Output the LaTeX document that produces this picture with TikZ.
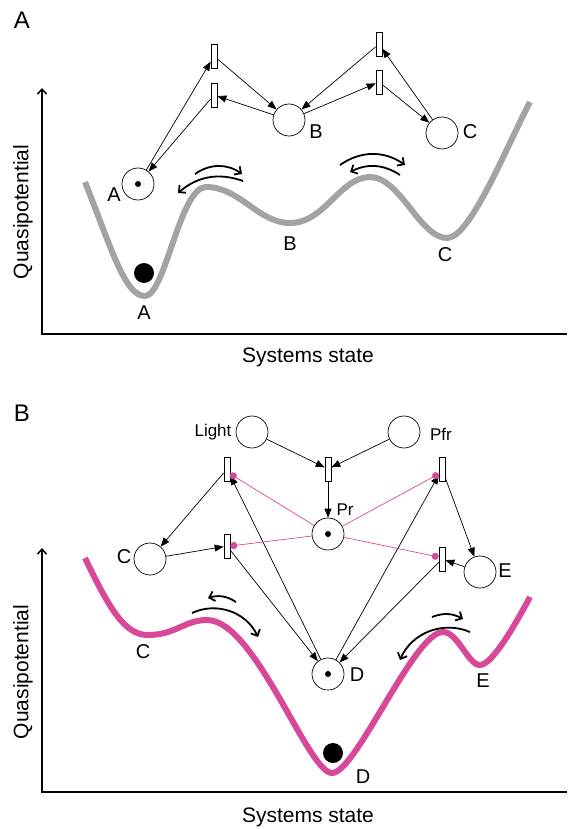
\documentclass[tikz,border=0pt]{standalone}
\usepackage{fontspec}
\setmainfont{Liberation Sans}
\usetikzlibrary{arrows.meta}
\definecolor{grigio}{RGB}{163,163,163}
\definecolor{rosa}{RGB}{216,72,152}
\tikzset{
  posto/.style={circle, draw, line width=0.7pt, minimum size=32pt, inner sep=0pt},
  transiz/.style={draw, line width=0.7pt, minimum width=6pt, minimum height=24pt, inner sep=0pt},
  arco/.style={line width=0.7pt, -{Triangle[length=9pt,width=7pt]}},
  inib/.style={rosa, line width=0.7pt, -{Circle[length=7pt]}},
  gettone/.style={circle, fill, inner sep=0pt, minimum size=6pt},
  oscilla/.style={line width=1.8pt, -{Straight Barb[length=5pt,width=10pt]}},
  asse/.style={line width=1.5pt, -{Straight Barb[length=5pt,width=9pt]}},
  etich/.style={font=\fontsize{20}{24}\selectfont},
  titolo/.style={font=\fontsize{21}{25}\selectfont},
  piccola/.style={font=\fontsize{17}{20}\selectfont},
  lettera/.style={font=\fontsize{24}{28}\selectfont},
}

\begin{document}
\begin{tikzpicture}[x=1pt, y=-1pt]
    \useasboundingbox (0,0) rectangle (567,829);

    % ===== Pannello A =====
    % 1. Lettera e assi
    \node[lettera] (letA) at (22,20) {A};
    \draw[asse] (567,334) -- (42,334) -- (42,88);
    \node[titolo, rotate=90] (quasiA) at (23,212) {Quasipotential};
    \node[titolo] (statoA) at (308,357) {Systems state};

    % 2. Paesaggio grigio con la pallina
    \draw[grigio, line width=6pt] (85,182)
        .. controls (112,250) and (125,296) .. (145,296)
        .. controls (165,296) and (180,187) .. (206,187)
        .. controls (240,187) and (258,223) .. (290,223)
        .. controls (325,223) and (340,177) .. (370,177)
        .. controls (400,177) and (420,238) .. (447,238)
        .. controls (470,238) and (505,150) .. (530,102);
    \fill (144,273) circle (10);
    \node[etich] (valA) at (144,313) {A};
    \node[etich] (valB) at (290,244) {B};
    \node[etich] (valC) at (445,255) {C};

    % 3. Frecce di oscillazione
    \draw[oscilla] (195,174) to[bend left=35] (242,174);
    \draw[oscilla] (243,181) to[bend right=30] (178,193);
    \draw[oscilla] (340,165) to[bend left=35] (405,165);
    \draw[oscilla] (400,175) to[bend right=30] (350,172);

    % 4. Rete di Petri (posti e transizioni)
    \node[posto] (pA) at (138,184) {};
    \node[gettone] (gA) at (pA) {};
    \node[posto] (pB) at (289,120) {};
    \node[posto] (pC) at (442,133) {};
    \node[etich] (etA) at (114,195) {A};
    \node[etich] (etB) at (316,132) {B};
    \node[etich] (etC) at (470,132) {C};
    \node[transiz] (t1) at (214,56) {};
    \node[transiz] (t2) at (214,95) {};
    \node[transiz] (t3) at (379,44) {};
    \node[transiz] (t4) at (379,82) {};

    % 5. Archi
    \draw[arco] (pA) -- (t1);
    \draw[arco] (t2) -- (pA);
    \draw[arco] (t1) -- (pB);
    \draw[arco] (pB) -- (t2);
    \draw[arco] (t3) -- (pB);
    \draw[arco] (pB) -- (t4);
    \draw[arco] (pC) -- (t3);
    \draw[arco] (t4) -- (pC);

    % ===== Pannello B =====
    % 6. Lettera e assi
    \node[lettera] (letB) at (22,413) {B};
    \draw[asse] (567,792) -- (42,792) -- (42,548);
    \node[titolo, rotate=90] (quasiB) at (23,672) {Quasipotential};
    \node[titolo] (statoB) at (308,817) {Systems state};

    % 7. Paesaggio rosa con la pallina
    \draw[rosa, line width=6pt] (85,558)
        .. controls (110,610) and (125,635) .. (148,635)
        .. controls (175,635) and (185,620) .. (207,620)
        .. controls (255,620) and (308,773) .. (332,773)
        .. controls (356,773) and (414,632) .. (443,632)
        .. controls (458,632) and (468,665) .. (480,665)
        .. controls (492,665) and (515,625) .. (530,597);
    \fill (333,753) circle (10);
    \node[etich] (valC2) at (143,652) {C};
    \node[etich] (valD) at (363,777) {D};
    \node[etich] (valE) at (483,681) {E};

    % 8. Frecce di oscillazione
    \draw[oscilla] (236,602) to[bend right=25] (208,598);
    \draw[oscilla] (192,613) to[bend left=45] (258,637);
    \draw[oscilla] (432,617) to[bend left=25] (463,619);
    \draw[oscilla] (470,632) to[bend right=45] (400,660);

    % 9. Rete di Petri
    \node[posto] (pLight) at (252,432) {};
    \node[posto] (pPfr) at (404,432) {};
    \node[posto] (pPr) at (328,534) {};
    \node[gettone] (gPr) at (pPr) {};
    \node[posto] (pC2) at (150,559) {};
    \node[posto] (pE) at (480,572) {};
    \node[posto] (pD) at (328,674) {};
    \node[gettone] (gD) at (pD) {};
    \node[piccola] (etLight) at (213,432) {Light};
    \node[piccola] (etPfr) at (441,434) {Pfr};
    \node[piccola] (etPr) at (345,510) {Pr};
    \node[etich] (etC2) at (124,557) {C};
    \node[etich] (etE) at (505,571) {E};
    \node[etich] (etD) at (357,675) {D};
    \node[transiz] (tL) at (328,469) {};
    \node[transiz] (tCl) at (227,469) {};
    \node[transiz] (tEr) at (442,469) {};
    \node[transiz] (tC2) at (227,546) {};
    \node[transiz] (tE2) at (442,559) {};

    % 10. Archi normali
    \draw[arco] (pLight) -- (tL);
    \draw[arco] (pPfr) -- (tL);
    \draw[arco] (tL) -- (pPr);
    \draw[arco] (tCl) -- (pC2);
    \draw[arco] (pC2) -- (tC2);
    \draw[arco] (tEr) -- (pE);
    \draw[arco] (pE) -- (tE2);
    \draw[arco] (pD) -- (tCl);
    \draw[arco] (tC2) -- (pD);
    \draw[arco] (pD) -- (tEr);
    \draw[arco] (tE2) -- (pD);

    % 11. Archi rosa da Pr
    \draw[inib] (pPr) -- ([yshift=-5pt]tCl.east);
    \draw[inib] (pPr) -- (tC2.east);
    \draw[inib] (pPr) -- ([yshift=-5pt]tEr.west);
    \draw[inib] (pPr) -- ([yshift=2pt]tE2.west);

\end{tikzpicture}
\end{document}
